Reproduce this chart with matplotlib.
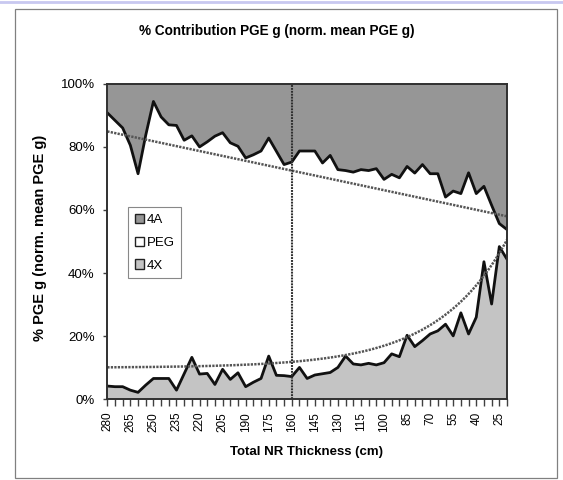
import numpy as np
import matplotlib
matplotlib.use("Agg")
from matplotlib import pyplot as plt
from matplotlib.patches import Patch, Rectangle
from matplotlib.lines import Line2D
from matplotlib.ticker import FuncFormatter

plt.rcParams['font.family'] = ['Liberation Sans', 'DejaVu Sans']

# categories: total NR thickness (cm), 280 .. 20
thickness = list(range(280, 15, -5))

# % contribution of each part (stack: 4X bottom, PEG middle, 4A top)
four_x = [4.2, 4.0, 4.0, 2.9, 2.2, 4.5, 6.6, 6.6, 6.6, 2.9,
          8.1, 13.3, 8.0, 8.2, 4.7, 9.5, 6.3, 8.4, 4.0, 5.4,
          6.6, 13.7, 7.6, 7.5, 7.2, 10.1, 6.6, 7.7, 8.1, 8.5,
          10.1, 13.7, 11.2, 10.9, 11.4, 10.9, 11.6, 14.4, 13.5, 20.3,
          16.7, 18.6, 20.7, 21.7, 23.8, 20.1, 27.4, 20.7, 26.0, 43.6,
          30.2, 48.4, 44.4]
peg = [86.6, 84.4, 82.0, 77.6, 69.3, 79.2, 87.8, 82.9, 80.4, 83.9,
       74.0, 70.2, 72.0, 73.4, 78.7, 75.0, 75.0, 71.8, 72.5, 72.1,
       72.1, 69.1, 71.0, 66.9, 68.0, 68.6, 72.1, 71.0, 66.8, 68.8,
       62.7, 58.8, 60.8, 61.9, 61.1, 62.2, 58.1, 56.9, 56.7, 53.5,
       55.0, 55.8, 50.8, 49.8, 40.3, 45.9, 37.8, 51.1, 39.2, 23.9,
       31.3, 7.3, 9.4]
four_a = [9.2, 11.6, 14.0, 19.5, 28.5, 16.3, 5.6, 10.5, 13.0, 13.2,
          17.9, 16.5, 20.0, 18.4, 16.6, 15.5, 18.7, 19.8, 23.5, 22.5,
          21.3, 17.2, 21.4, 25.6, 24.8, 21.3, 21.3, 21.3, 25.1, 22.7,
          27.2, 27.5, 28.0, 27.2, 27.5, 26.9, 30.3, 28.7, 29.8, 26.2,
          28.3, 25.6, 28.5, 28.5, 35.9, 34.0, 34.8, 28.2, 34.8, 32.5,
          38.5, 44.3, 46.2]

# trendlines
top_trend_ends = [84.9, 58.0]          # linear, at 280 and 20
bottom_trend = (10.0, 0.133, 0.11)     # offset + a*exp(r*i)
marker_thickness = 160

x = np.arange(len(thickness))
bx = np.array(four_x)
tx = bx + np.array(peg)

fig = plt.figure(figsize=(5.63, 4.8), dpi=100)
ax = fig.add_axes([107.3/563, 1-399.3/480, 399.7/563, 315.5/480])

ax.stackplot(x, four_x, peg, four_a,
             colors=['#c4c4c4', '#ffffff', '#969696'], lw=0)
ax.plot(x, bx, color='#111111', lw=2)
ax.plot(x, tx, color='#111111', lw=2)

# trend lines
dots = (0, (0.9, 0.5))
ax.plot([x[0], x[-1]], top_trend_ends, color='#555555', lw=1.8, ls=dots)
c, a, r = bottom_trend
xs = np.linspace(0, x[-1], 200)
ax.plot(xs, c + a*np.exp(r*xs), color='#555555', lw=1.8, ls=dots)

vi = thickness.index(marker_thickness)
ax.plot([vi, vi], [0, 100], color='#303030', lw=1.5, ls=dots)

ax.set_xlim(0, x[-1])
ax.set_ylim(0, 100)
ax.set_xticks(x)
ax.set_xticklabels([str(t) if i % 3 == 0 else '' for i, t in enumerate(thickness)],
                   rotation=90, fontsize=8.5)
ax.set_yticks(range(0, 101, 20))
ax.yaxis.set_major_formatter(FuncFormatter(lambda v, p: '%d%%' % v))
ax.tick_params(axis='y', labelsize=9.5, length=3, width=1, pad=6,
               color='#404040')
ax.tick_params(axis='x', length=5, width=1, pad=4, color='#404040')
for s in ax.spines.values():
    s.set_color('#303030')
    s.set_linewidth(1.4)

handles = [Patch(facecolor='#969696', edgecolor='#222222', label='4A'),
           Patch(facecolor='#ffffff', edgecolor='#222222', label='PEG'),
           Patch(facecolor='#c4c4c4', edgecolor='#222222', label='4X')]
leg = ax.legend(handles=handles, loc='upper left', bbox_to_anchor=(0.052, 0.609),
                borderaxespad=0, fontsize=9.5, handlelength=0.7, handleheight=0.7,
                handletextpad=0.2, labelspacing=0.8, fancybox=False,
                framealpha=1, borderpad=0.5)
leg.get_frame().set_edgecolor('#888888')
leg.get_frame().set_linewidth(0.8)

fig.text(277/563, 1-31/480, '% Contribution PGE g (norm. mean PGE g)',
         ha='center', va='center', fontsize=9.8, fontweight='bold')
fig.text(40/563, 1-238/480, '% PGE g (norm. mean PGE g)', rotation=90,
         ha='center', va='center', fontsize=10.5, fontweight='bold')
fig.text(307/563, 1-452/480, 'Total NR Thickness (cm)',
         ha='center', va='center', fontsize=9.5, fontweight='bold')

# chart border and top band
fig.patches.append(Rectangle((15/563, 2/480), 542/563, 469/480, fill=False,
                             edgecolor='#808080', lw=0.9,
                             transform=fig.transFigure))
fig.lines.append(Line2D([0, 1], [1-1.5/480, 1-1.5/480], color='#c8c8f0', lw=2,
                        transform=fig.transFigure))

fig.savefig('out.png', dpi=100)
